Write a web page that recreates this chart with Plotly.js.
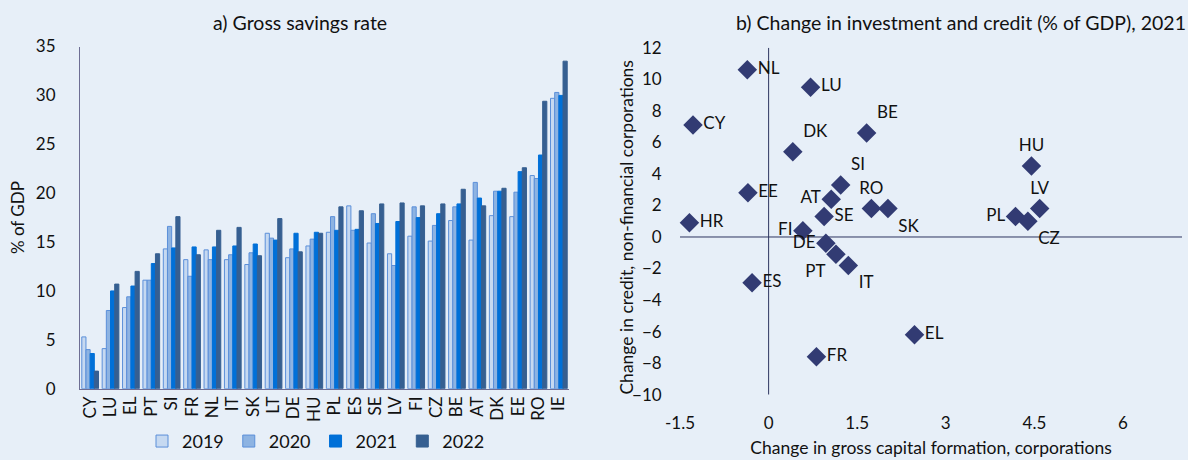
<!DOCTYPE html>
<html>
<head>
<meta charset="utf-8">
<script src="https://cdn.plot.ly/plotly-3.0.1.min.js"></script>
<style>html,body{margin:0;padding:0;background:#E7EFF8;}#chart{width:1188px;height:460px;}</style>
</head>
<body>
<div id="chart"></div>
<script>
// Panel a) Gross savings rate (% of GDP)
const countries = ["CY","LU","EL","PT","SI","FR","NL","IT","SK","LT","DE","HU","PL","ES","SE","LV","FI","CZ","BE","AT","DK","EE","RO","IE"];
const s2019 = [5.3, 4.1, 8.3, 11.1, 14.3, 13.2, 14.2, 13.2, 12.7, 15.9, 13.4, 14.6, 16.0, 18.7, 14.9, 13.8, 15.6, 15.1, 17.2, 15.2, 17.7, 17.6, 21.8, 29.7];
const s2020 = [4.0, 8.0, 9.4, 11.1, 16.6, 11.5, 13.2, 13.7, 13.9, 15.4, 14.3, 15.3, 17.6, 16.2, 17.9, 12.6, 18.6, 16.7, 18.6, 21.1, 20.2, 20.1, 21.5, 30.3];
const s2021 = [3.6, 10.0, 10.5, 12.8, 14.4, 14.5, 14.5, 14.6, 14.8, 15.2, 15.9, 16.0, 16.2, 16.3, 16.9, 17.1, 17.5, 17.9, 18.9, 19.5, 20.2, 22.2, 23.9, 30.0];
const s2022 = [1.8, 10.7, 12.0, 13.8, 17.6, 13.7, 16.2, 16.5, 13.6, 17.4, 14.0, 15.9, 18.6, 18.2, 18.9, 19.0, 18.7, 18.9, 20.4, 18.7, 20.5, 22.6, 29.4, 33.5];
const years = ["2019","2020","2021","2022"];
const yTicks = [0,5,10,15,20,25,30,35];

// Panel b) Change in investment and credit (% of GDP), 2021
const scCountries = ["NL","LU","CY","BE","DK","SI","EE","AT","RO","SK","SE","HR","FI","DE","PT","IT","ES","FR","HU","LV","PL","CZ","EL"];
const gcfChange = [-0.36, 0.71, -1.28, 1.66, 0.41, 1.22, -0.35, 1.06, 1.74, 2.02, 0.94, -1.34, 0.58, 0.97, 1.14, 1.35, -0.28, 0.81, 4.45, 4.59, 4.18, 4.39, 2.47];
const creditChange = [10.6, 9.5, 7.1, 6.6, 5.4, 3.3, 2.8, 2.4, 1.8, 1.8, 1.3, 0.9, 0.4, -0.4, -1.1, -1.8, -2.9, -7.6, 4.5, 1.8, 1.3, 1.0, -6.2];
const labelPos = ["middle right","middle right","middle right","top right","top right","top right","middle right","middle left","top center","bottom right","middle right","middle right","middle left","middle left","bottom left","bottom right","middle right","middle right","top center","top center","middle left","bottom right","middle right"];
const xTicksB = [-1.5,0,1.5,3,4.5,6];
const yTicksB = [-10,-8,-6,-4,-2,0,2,4,6,8,10,12];

const FONT = "Lato, 'Open Sans', sans-serif";
const fillCol = ["#C6D9F1","#8DB3E2","#0070D8","#365F91"];
const lineCol = ["#5B8FD9","#5B8FD9","#0070D8","#365F91"];
const series = [s2019, s2020, s2021, s2022];

const traces = series.map((vals, i) => ({
  type: "bar",
  name: years[i],
  x: countries,
  y: vals,
  xaxis: "x", yaxis: "y",
  marker: {color: fillCol[i], line: {color: lineCol[i], width: 1}},
  hoverinfo: "x+y+name"
}));

traces.push({
  type: "scatter",
  mode: "markers+text",
  x: gcfChange,
  y: creditChange,
  text: scCountries,
  textposition: labelPos,
  textfont: {family: FONT, size: 17, color: "#111"},
  xaxis: "x2", yaxis: "y2",
  marker: {symbol: "diamond", size: 15, color: "#323B73"},
  showlegend: false,
  cliponaxis: false
});

const layout = {
  width: 1188, height: 460,
  paper_bgcolor: "#E7EFF8", plot_bgcolor: "#E7EFF8",
  margin: {l: 0, r: 0, t: 0, b: 0},
  font: {family: FONT, size: 18, color: "#111"},
  barmode: "group",
  bargap: 0.18,
  bargroupgap: 0,
  showlegend: true,
  legend: {orientation: "h", x: 0.266, xanchor: "center", y: 0.03, yanchor: "middle",
           font: {family: FONT, size: 18}, bgcolor: "rgba(0,0,0,0)", itemwidth: 30, traceorder: "normal"},
  xaxis: {domain: [0.0673, 0.479], anchor: "y", type: "category",
          tickangle: -90, showline: true, linecolor: "#6E6E94", linewidth: 1,
          ticks: "", tickfont: {family: FONT, size: 17}, showgrid: false, fixedrange: true},
  yaxis: {domain: [0.1457, 0.8978], anchor: "x", range: [0, 35], tickvals: yTicks,
          showline: true, linecolor: "#6E6E94", linewidth: 1, showgrid: false, zeroline: false,
          ticks: "outside", ticklen: 20, tickcolor: "rgba(0,0,0,0)",
          tickfont: {family: FONT, size: 17},
          title: {text: "% of GDP", font: {family: FONT, size: 17}, standoff: 6}},
  xaxis2: {domain: [0.5724, 0.995], anchor: "y2", range: [-1.5, 7], tickvals: xTicksB,
           ticktext: xTicksB.map(String),
           showline: false, showgrid: false, zeroline: false,
           ticks: "outside", ticklen: 13, tickcolor: "rgba(0,0,0,0)",
           tickfont: {family: FONT, size: 17},
           title: {text: "Change in gross capital formation, corporations", font: {family: FONT, size: 17.5}, standoff: 9}},
  yaxis2: {domain: [0.1326, 0.895], anchor: "x2", range: [-10, 12], tickvals: yTicksB,
           showline: false, showgrid: false, zeroline: false,
           ticks: "outside", ticklen: 14, tickcolor: "rgba(0,0,0,0)",
           tickfont: {family: FONT, size: 17}},
  shapes: [
    {type: "line", xref: "x2", yref: "y2", x0: -1.5, x1: 7, y0: 0, y1: 0, line: {color: "#2E3560", width: 1}, layer: "below"},
    {type: "line", xref: "x2", yref: "y2", x0: 0, x1: 0, y0: -10, y1: 12, line: {color: "#2E3560", width: 1}, layer: "below"}
  ],
  annotations: [
    {text: "a) Gross savings rate", xref: "paper", yref: "paper", x: 0.2525, y: 0.95, xanchor: "center", yanchor: "middle",
     showarrow: false, font: {family: FONT, size: 19.5}},
    {text: "b) Change in investment and credit (% of GDP), 2021", xref: "paper", yref: "paper", x: 0.809, y: 0.95, xanchor: "center", yanchor: "middle",
     showarrow: false, font: {family: FONT, size: 19.5}},
    {text: "Change in credit, non-financial corporations", xref: "paper", yref: "paper", x: 0.527, y: 0.5, xanchor: "center", yanchor: "middle",
     textangle: -90, showarrow: false, font: {family: FONT, size: 17.5}}
  ]
};

Plotly.newPlot("chart", traces, layout, {displayModeBar: false});
</script>
</body>
</html>
